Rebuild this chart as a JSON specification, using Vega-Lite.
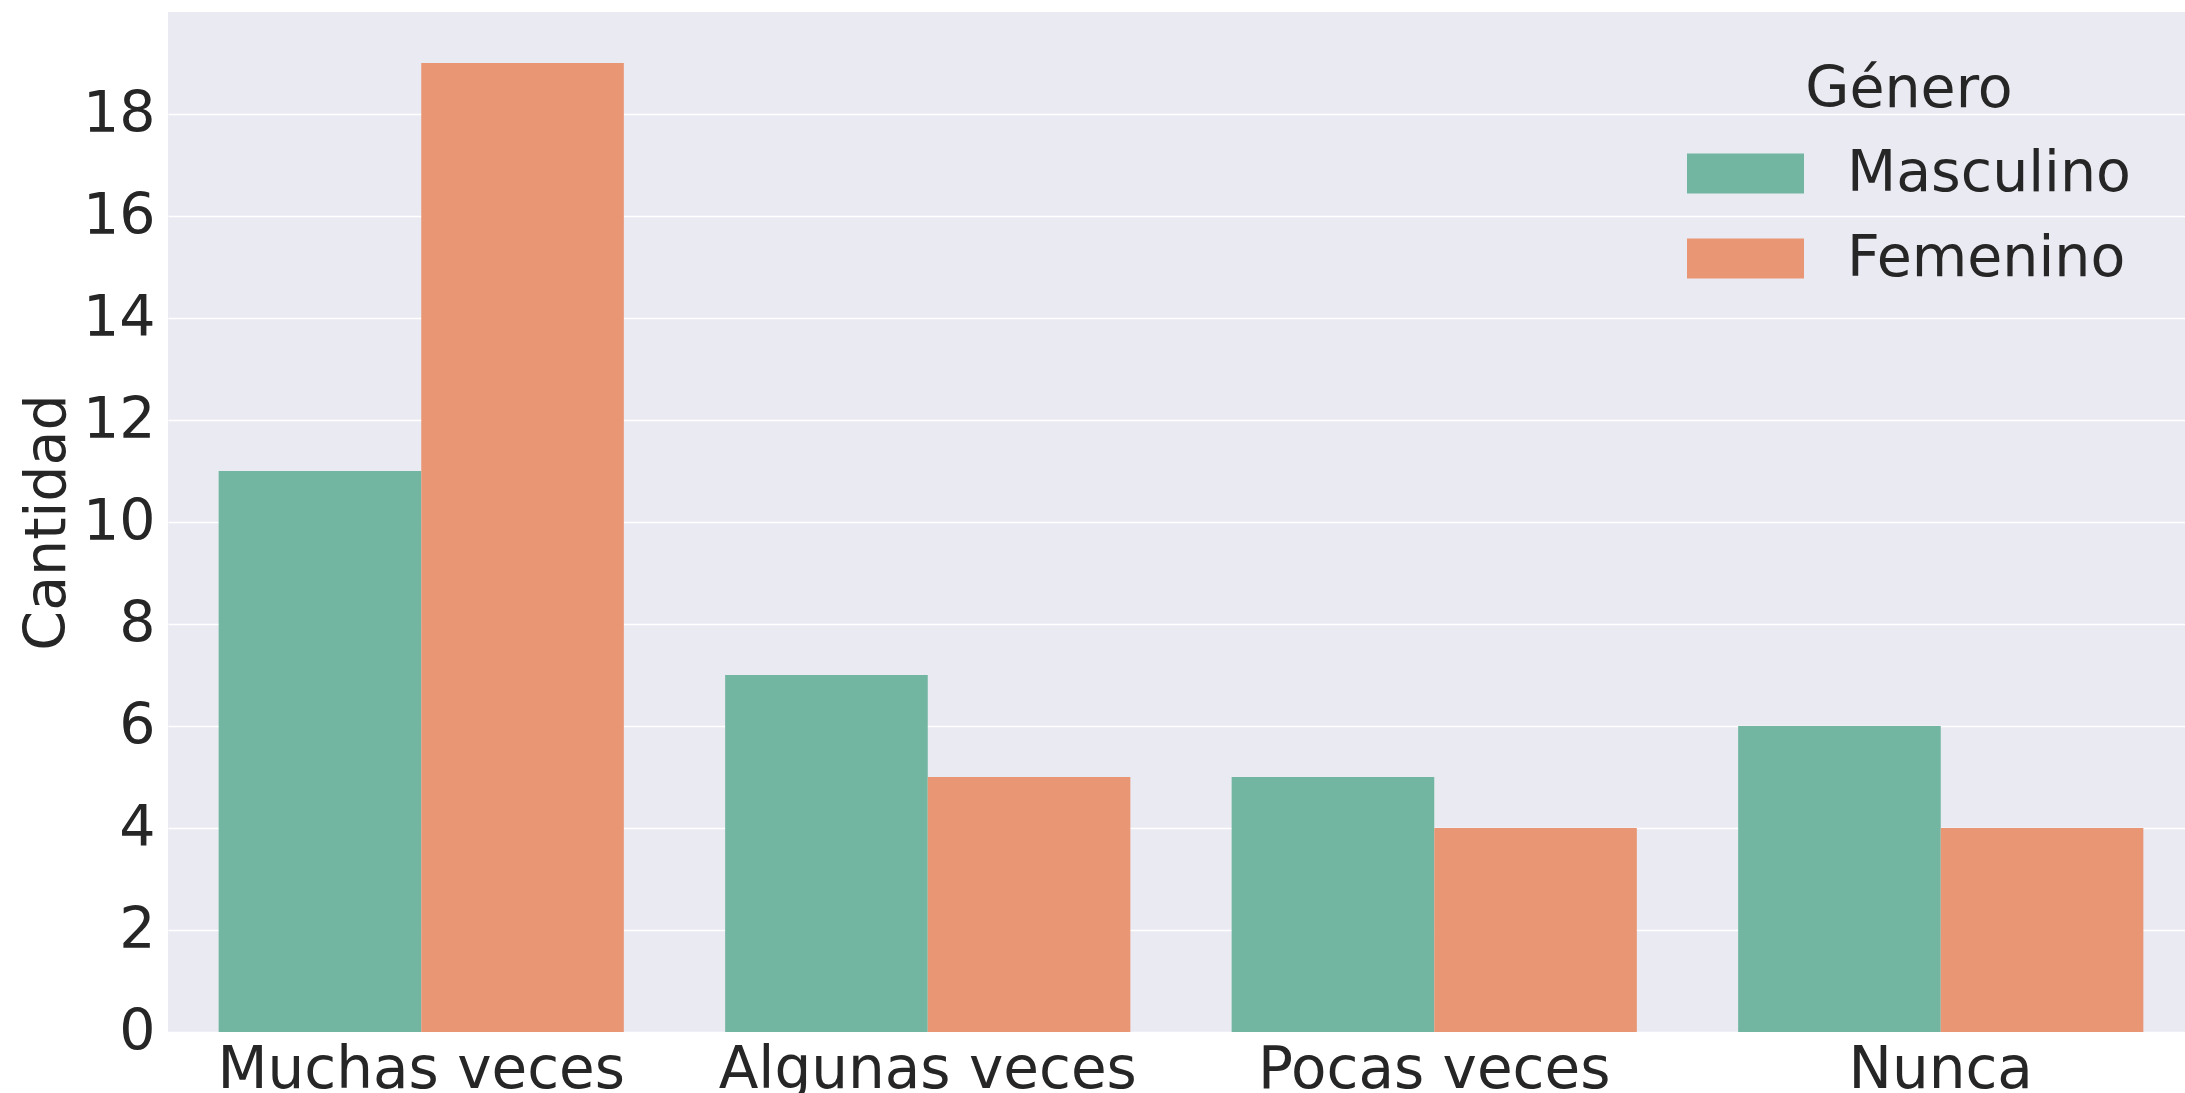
{
  "$schema": "https://vega.github.io/schema/vega-lite/v6.json",
  "width": 2017,
  "height": 1020,
  "autosize": {"type": "none"},
  "padding": {"left": 168, "top": 12, "right": 0, "bottom": 61},
  "background": "white",
  "config": {
    "view": {"fill": "#EAEAF2", "stroke": null},
    "font": "DejaVu Sans",
    "axis": {"labelColor": "#262626", "titleColor": "#262626", "domain": false, "ticks": false, "labelLimit": 0, "titleLimit": 0}
  },
  "data": {
    "values": [
      {"frecuencia": "Muchas veces", "genero": "Masculino", "cantidad": 11},
      {"frecuencia": "Muchas veces", "genero": "Femenino", "cantidad": 19},
      {"frecuencia": "Algunas veces", "genero": "Masculino", "cantidad": 7},
      {"frecuencia": "Algunas veces", "genero": "Femenino", "cantidad": 5},
      {"frecuencia": "Pocas veces", "genero": "Masculino", "cantidad": 5},
      {"frecuencia": "Pocas veces", "genero": "Femenino", "cantidad": 4},
      {"frecuencia": "Nunca", "genero": "Masculino", "cantidad": 6},
      {"frecuencia": "Nunca", "genero": "Femenino", "cantidad": 4}
    ]
  },
  "mark": {"type": "bar"},
  "encoding": {
    "x": {
      "field": "frecuencia",
      "type": "nominal",
      "sort": ["Muchas veces", "Algunas veces", "Pocas veces", "Nunca"],
      "scale": {"range": [0, 2026], "paddingInner": 0.2, "paddingOuter": 0.1},
      "axis": {"title": null, "labelAngle": 0, "labelFontSize": 58, "grid": false, "labelPadding": 9}
    },
    "xOffset": {
      "field": "genero",
      "type": "nominal",
      "sort": ["Masculino", "Femenino"],
      "scale": {"paddingInner": 0, "paddingOuter": 0}
    },
    "y": {
      "field": "cantidad",
      "type": "quantitative",
      "scale": {"domain": [0, 20], "nice": false},
      "axis": {
        "title": "Cantidad",
        "values": [0, 2, 4, 6, 8, 10, 12, 14, 16, 18],
        "grid": true,
        "gridColor": "white",
        "gridWidth": 1.5,
        "labelFontSize": 57,
        "titleFontSize": 57,
        "titleFontWeight": "normal",
        "labelPadding": 13,
        "titlePadding": 6
      }
    },
    "color": {
      "field": "genero",
      "type": "nominal",
      "scale": {"domain": ["Masculino", "Femenino"], "range": ["#72B6A1", "#E99675"]},
      "legend": {
        "title": "Género",
        "orient": "none",
        "legendX": 1519,
        "legendY": 50,
        "padding": 0,
        "titleFontSize": 57,
        "titleFontWeight": "normal",
        "titleColor": "#262626",
        "titleAnchor": "middle",
        "titleAlign": "center",
        "titleLimit": 0,
        "titlePadding": 26,
        "labelFontSize": 57,
        "labelColor": "#262626",
        "labelLimit": 0,
        "labelOffset": 43,
        "symbolType": "M-1,-0.342H1V0.342H-1Z",
        "symbolSize": 13689,
        "symbolStrokeWidth": 0,
        "symbolOpacity": 1,
        "clipHeight": 57,
        "rowPadding": 27
      }
    }
  }
}
